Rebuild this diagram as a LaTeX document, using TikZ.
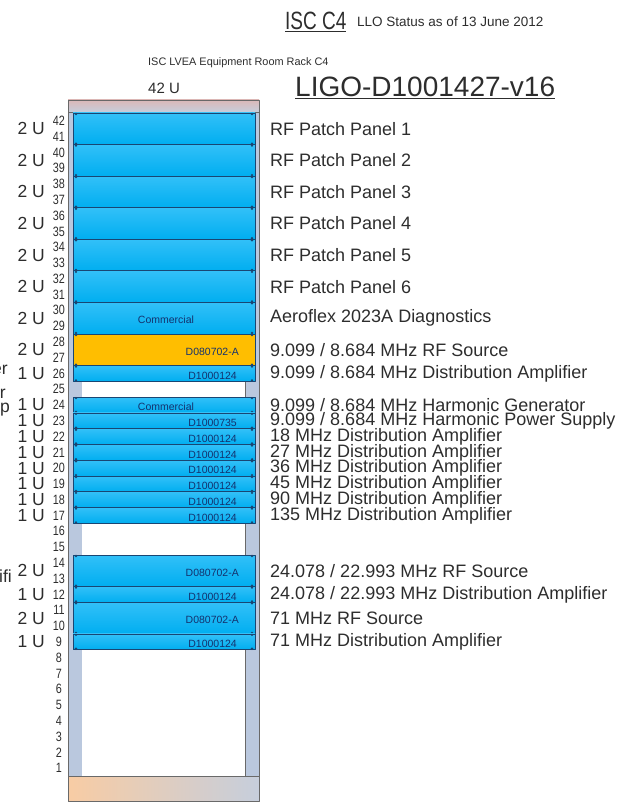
\documentclass[tikz,border=0pt]{standalone}
\usepackage{fontspec}
\setmainfont{Liberation Sans}
\usetikzlibrary{positioning}

\definecolor{modblue}{RGB}{0,174,240}
\definecolor{modbluelight}{RGB}{50,192,248}
\definecolor{modedge}{RGB}{25,70,115}
\definecolor{modtext}{RGB}{20,50,110}
\definecolor{modorange}{RGB}{255,190,0}
\definecolor{rackside}{RGB}{186,200,222}
\definecolor{rackline}{RGB}{105,105,105}
\definecolor{capgray}{RGB}{198,206,220}
\definecolor{cappink}{RGB}{232,170,160}
\definecolor{capsand}{RGB}{248,204,164}
\definecolor{labelgray}{RGB}{45,45,45}

\tikzset{
  bluemod/.style={draw=modedge, line width=0.8pt, top color=modbluelight, bottom color=modblue},
  orangemod/.style={draw=modedge, line width=0.8pt, fill=modorange},
  partno/.style={font=\fontsize{10.5}{10.5}\selectfont, text=modtext, inner sep=0pt},
  unitnum/.style={font=\fontsize{13.5}{13.5}\selectfont, text=labelgray, inner sep=0pt, xscale=0.8},
  unitsize/.style={font=\fontsize{17.5}{17.5}\selectfont, text=labelgray, inner sep=0pt, anchor=east},
  desc/.style={font=\fontsize{18}{18}\selectfont, text=labelgray, inner sep=0pt, anchor=west},
  heading/.style={text=labelgray, inner sep=0pt, anchor=base west},
}

\begin{document}
\begin{tikzpicture}[x=1pt, y=-1pt, line join=round]

  % Parameters
  \def\uh{15.786} % height of one rack unit
  \def\yt{113}    % top edge of unit 42
  \def\xl{73}     % left edge of the modules
  \def\xr{255}    % right edge of the modules

  \useasboundingbox (0,0) rectangle (617,802);

  % 1. Headings
  \node[heading, font=\fontsize{25}{25}\selectfont, xscale=0.76] (title) at (285,30) {\underline{ISC C4}};
  \node[heading, font=\fontsize{13.5}{13.5}\selectfont] (status) at (357,27) {LLO Status as of 13 June 2012};
  \node[heading, font=\fontsize{10.9}{10.9}\selectfont] (room) at (148,66) {ISC LVEA Equipment Room Rack C4};
  \node[heading, font=\fontsize{15}{15}\selectfont] (height) at (148,94) {42 U};
  \node[heading, font=\fontsize{28}{28}\selectfont] (docnum) at (295,97) {\underline{LIGO-D1001427-v16}};

  % 2. Rack frame: side rails, empty bay, top and bottom caps
  \draw[rackline, fill=rackside] (68,112) rectangle (82,776);
  \draw[rackline, fill=rackside] (245,112) rectangle (259,776);
  \fill[white] (82,112) rectangle (245,776);
  \draw[rackline, top color=cappink!60!capgray, bottom color=capgray] (68,100) rectangle (259,112);
  \draw[rackline, left color=capsand, right color=capgray] (68,776) rectangle (259,801);

  % 3. Unit numbers 1 ... 42
  \foreach \k in {1,...,42} {
    \pgfmathsetmacro\yk{\yt+(42.5-\k)*\uh}
    \node[unitnum] (num\k) at (59,\yk) {\k};
  }

  % 4. Installed modules: top unit / size / style / part number / x / anchor / description
  \foreach \ut/\n/\sty/\pn/\px/\pa/\dsc in {
      42/2/bluemod/{}/166/center/{RF Patch Panel 1},
      40/2/bluemod/{}/166/center/{RF Patch Panel 2},
      38/2/bluemod/{}/166/center/{RF Patch Panel 3},
      36/2/bluemod/{}/166/center/{RF Patch Panel 4},
      34/2/bluemod/{}/166/center/{RF Patch Panel 5},
      32/2/bluemod/{}/166/center/{RF Patch Panel 6},
      30/2/bluemod/Commercial/166/center/{Aeroflex 2023A Diagnostics},
      28/2/orangemod/D080702-A/239/east/{9.099 / 8.684 MHz RF Source},
      26/1/bluemod/D1000124/237/east/{9.099 / 8.684 MHz Distribution Amplifier},
      24/1/bluemod/Commercial/166/center/{9.099 / 8.684 MHz Harmonic Generator},
      23/1/bluemod/D1000735/237/east/{9.099 / 8.684 MHz Harmonic Power Supply},
      22/1/bluemod/D1000124/237/east/{18 MHz Distribution Amplifier},
      21/1/bluemod/D1000124/237/east/{27 MHz Distribution Amplifier},
      20/1/bluemod/D1000124/237/east/{36 MHz Distribution Amplifier},
      19/1/bluemod/D1000124/237/east/{45 MHz Distribution Amplifier},
      18/1/bluemod/D1000124/237/east/{90 MHz Distribution Amplifier},
      17/1/bluemod/D1000124/237/east/{135 MHz Distribution Amplifier},
      14/2/bluemod/D080702-A/239/east/{24.078 / 22.993 MHz RF Source},
      12/1/bluemod/D1000124/237/east/{24.078 / 22.993 MHz Distribution Amplifier},
      11/2/bluemod/D080702-A/239/east/{71 MHz RF Source},
      9/1/bluemod/D1000124/237/east/{71 MHz Distribution Amplifier}} {
    \pgfmathsetmacro\ya{\yt+(42-\ut)*\uh}
    \pgfmathsetmacro\yb{\ya+\n*\uh}
    \pgfmathsetmacro\ym{(\ya+\yb)/2}
    \draw[\sty] (\xl,\ya) rectangle (\xr,\yb);
    \foreach \xd in {76,252}
      \fill[modedge] (\xd,\ya+1) circle (1.3) (\xd,\yb-1) circle (1.3);
    \node[partno, anchor=\pa] (part\ut) at (\px,\ym+2) {\pn};
    \node[unitsize] (size\ut) at (45,\ym) {\n\ U};
    \node[desc] (desc\ut) at (270,\ym) {\dsc};
  }

  % 5. Cut-off text at the left margin
  \node[unitsize] (cutA) at (8,370) {er};
  \node[unitsize] (cutB) at (6,394) {r};
  \node[unitsize] (cutC) at (10,410) {up};
  \node[unitsize] (cutD) at (12,576) {ifi};

\end{tikzpicture}
\end{document}
